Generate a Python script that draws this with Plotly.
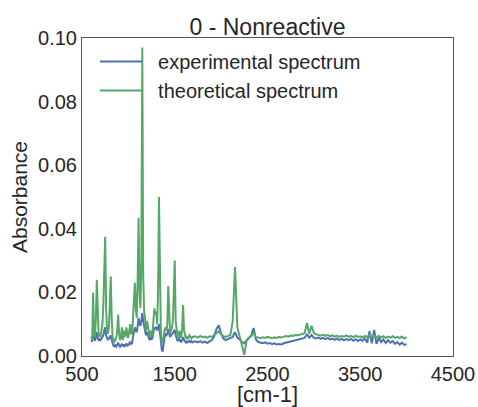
import plotly.graph_objects as go

# wavenumber grid [cm-1]: 10 cm-1 steps in the fingerprint region, 25 above
wn_low = [
    600, 610, 620, 630, 640, 650, 660, 670, 680, 690,
    700, 710, 720, 730, 740, 750, 760, 770, 780, 790,
    800, 810, 820, 830, 840, 850, 860, 870, 880, 890,
    900, 910, 920, 930, 940, 950, 960, 970, 980, 990,
    1000, 1010, 1020, 1030, 1040, 1050, 1060, 1070, 1080, 1090,
    1100, 1110, 1120, 1130, 1140, 1150, 1160, 1170, 1180, 1190,
    1200, 1210, 1220, 1230, 1240, 1250, 1260, 1270, 1280, 1290,
    1300, 1310, 1320, 1330, 1340, 1350, 1360, 1370, 1380, 1390,
    1400, 1410, 1420, 1430, 1440, 1450, 1460, 1470, 1480, 1490,
    1500, 1510, 1520, 1530, 1540, 1550, 1560, 1570, 1580, 1590,
    1600, 1610, 1620, 1630, 1640, 1650, 1660, 1670, 1680, 1690,
    1700,
]
wn_high = [
    1725, 1750, 1775, 1800, 1825, 1850, 1875, 1900,
    1925, 1950, 1975, 2000, 2025, 2050, 2075, 2100,
    2125, 2150, 2175, 2200, 2225, 2250, 2275, 2300,
    2325, 2350, 2375, 2400, 2425, 2450, 2475, 2500,
    2525, 2550, 2575, 2600, 2625, 2650, 2675, 2700,
    2725, 2750, 2775, 2800, 2825, 2850, 2875, 2900,
    2925, 2950, 2975, 3000, 3025, 3050, 3075, 3100,
    3125, 3150, 3175, 3200, 3225, 3250, 3275, 3300,
    3325, 3350, 3375, 3400, 3425, 3450, 3475, 3500,
    3525, 3550, 3575, 3600, 3625, 3650, 3675, 3700,
    3725, 3750, 3775, 3800, 3825, 3850, 3875, 3900,
    3925, 3950, 3975, 4000,
]

experimental_low = [
    0.0050, 0.0045, 0.0070, 0.0052, 0.0048, 0.0060, 0.0075, 0.0055, 0.0050, 0.0053,
    0.0050, 0.0055, 0.0060, 0.0065, 0.0080, 0.0090, 0.0065, 0.0055, 0.0050, 0.0055,
    0.0060, 0.0065, 0.0050, 0.0038, 0.0032, 0.0030, 0.0034, 0.0030, 0.0036, 0.0042,
    0.0033, 0.0029, 0.0034, 0.0038, 0.0030, 0.0036, 0.0031, 0.0035, 0.0039, 0.0032,
    0.0034, 0.0040, 0.0045, 0.0038, 0.0040, 0.0060, 0.0075, 0.0090, 0.0080, 0.0075,
    0.0095, 0.0120, 0.0100, 0.0095, 0.0110, 0.0135, 0.0110, 0.0090, 0.0082, 0.0065,
    0.0075, 0.0068, 0.0055, 0.0050, 0.0060, 0.0052, 0.0058, 0.0075, 0.0090, 0.0085,
    0.0092, 0.0080, 0.0090, 0.0100, 0.0075, 0.0040, 0.0020, 0.0014, 0.0040, 0.0060,
    0.0068, 0.0065, 0.0070, 0.0085, 0.0070, 0.0060, 0.0065, 0.0068, 0.0072, 0.0078,
    0.0082, 0.0065, 0.0052, 0.0048, 0.0050, 0.0055, 0.0046, 0.0045, 0.0050, 0.0060,
    0.0050, 0.0044, 0.0042, 0.0046, 0.0043, 0.0045, 0.0048, 0.0044, 0.0046, 0.0043,
    0.0045,
]
experimental_high = [
    0.0046, 0.0043, 0.0047, 0.0042, 0.0045, 0.0041, 0.0046, 0.0050,
    0.0062, 0.0085, 0.0097, 0.0070, 0.0055, 0.0050, 0.0053, 0.0056,
    0.0060, 0.0075, 0.0058, 0.0052, 0.0044, 0.0040, 0.0048, 0.0055,
    0.0065, 0.0088, 0.0052, 0.0044, 0.0042, 0.0040, 0.0043, 0.0039,
    0.0041, 0.0037, 0.0040, 0.0036, 0.0038, 0.0036, 0.0040, 0.0042,
    0.0044, 0.0046, 0.0048, 0.0050, 0.0052, 0.0053, 0.0055, 0.0057,
    0.0068, 0.0058, 0.0066, 0.0057, 0.0055, 0.0058, 0.0054, 0.0057,
    0.0053, 0.0056, 0.0052, 0.0055, 0.0051, 0.0055, 0.0050, 0.0054,
    0.0049, 0.0053, 0.0050, 0.0054, 0.0048, 0.0053, 0.0047, 0.0052,
    0.0048, 0.0055, 0.0042, 0.0078, 0.0040, 0.0082, 0.0038, 0.0058,
    0.0044, 0.0052, 0.0041, 0.0050, 0.0042, 0.0047, 0.0038, 0.0044,
    0.0036, 0.0042, 0.0035, 0.0037,
]

theoretical_low = [
    0.0060, 0.0050, 0.0200, 0.0070, 0.0060, 0.0120, 0.0240, 0.0100, 0.0060, 0.0070,
    0.0060, 0.0080, 0.0100, 0.0160, 0.0300, 0.0375, 0.0150, 0.0080, 0.0070, 0.0090,
    0.0160, 0.0250, 0.0120, 0.0060, 0.0050, 0.0045, 0.0050, 0.0060, 0.0080, 0.0130,
    0.0070, 0.0050, 0.0060, 0.0090, 0.0050, 0.0080, 0.0060, 0.0070, 0.0090, 0.0060,
    0.0060, 0.0080, 0.0100, 0.0070, 0.0070, 0.0120, 0.0160, 0.0230, 0.0150, 0.0120,
    0.0240, 0.0435, 0.0200, 0.0150, 0.0300, 0.0970, 0.0250, 0.0140, 0.0120, 0.0080,
    0.0110, 0.0090, 0.0070, 0.0060, 0.0080, 0.0060, 0.0070, 0.0120, 0.0150, 0.0130,
    0.0140, 0.0100, 0.0200, 0.0500, 0.0150, 0.0080, 0.0040, 0.0050, 0.0060, 0.0080,
    0.0090, 0.0080, 0.0100, 0.0220, 0.0100, 0.0070, 0.0080, 0.0090, 0.0110, 0.0180,
    0.0300, 0.0110, 0.0070, 0.0060, 0.0060, 0.0080, 0.0060, 0.0060, 0.0090, 0.0160,
    0.0080, 0.0060, 0.0055, 0.0060, 0.0055, 0.0060, 0.0065, 0.0060, 0.0055, 0.0060,
    0.0060,
]
theoretical_high = [
    0.0062, 0.0058, 0.0063, 0.0059, 0.0061, 0.0057, 0.0062, 0.0060,
    0.0066, 0.0074, 0.0078, 0.0068, 0.0062, 0.0060, 0.0063, 0.0066,
    0.0110, 0.0280, 0.0090, 0.0062, 0.0030, 0.0004, 0.0050, 0.0058,
    0.0062, 0.0072, 0.0060, 0.0058, 0.0056, 0.0059, 0.0057, 0.0060,
    0.0058, 0.0056, 0.0059, 0.0057, 0.0060, 0.0058, 0.0061, 0.0063,
    0.0061, 0.0064, 0.0063, 0.0066, 0.0065, 0.0068, 0.0070, 0.0072,
    0.0104, 0.0070, 0.0095, 0.0072, 0.0068, 0.0066, 0.0064, 0.0067,
    0.0063, 0.0066, 0.0062, 0.0065, 0.0061, 0.0064, 0.0060, 0.0063,
    0.0061, 0.0065, 0.0060, 0.0063, 0.0059, 0.0064, 0.0060, 0.0062,
    0.0058, 0.0063, 0.0060, 0.0066, 0.0061, 0.0064, 0.0059, 0.0063,
    0.0058, 0.0062, 0.0057, 0.0061, 0.0058, 0.0062, 0.0057, 0.0060,
    0.0056, 0.0061, 0.0055, 0.0059,
]

x_ticks = [500, 1500, 2500, 3500, 4500]
y_ticks = [0.00, 0.02, 0.04, 0.06, 0.08, 0.10]

wavenumber = wn_low + wn_high
experimental = experimental_low + experimental_high
theoretical = theoretical_low + theoretical_high
assert len(wavenumber) == len(experimental) == len(theoretical)

font = "Liberation Sans, Arial, sans-serif"
text_col = "#262626"

fig = go.Figure()
fig.add_trace(go.Scatter(x=wavenumber, y=experimental, mode="lines",
                         name="  experimental spectrum", legendgroup="a",
                         line=dict(color="#4C72B0", width=2)))
fig.add_trace(go.Scatter(x=wavenumber, y=theoretical, mode="lines",
                         name="  theoretical spectrum", legendgroup="b",
                         line=dict(color="#55A868", width=2)))

fig.update_layout(
    width=478, height=407,
    margin=dict(l=82, r=25, t=38, b=51),
    plot_bgcolor="white", paper_bgcolor="white",
    font=dict(family=font, color=text_col, size=20),
    title=dict(text="0 - Nonreactive", x=0.5, xref="paper", xanchor="center",
               y=1 - 27 / 407, yref="container", yanchor="middle",
               font=dict(size=23, color=text_col)),
    legend=dict(x=(95 - 82) / 371, xanchor="left", y=1 - 4 / 318, yanchor="top",
                bgcolor="rgba(0,0,0,0)", borderwidth=0, itemwidth=42,
                tracegroupgap=0, font=dict(size=20, color=text_col)),
    showlegend=True,
)
fig.update_xaxes(range=[500, 4500], tickvals=x_ticks, ticktext=[str(v) for v in x_ticks],
                 showgrid=False, zeroline=False, showline=True, mirror=True,
                 linecolor="#555555", linewidth=1, ticks="", automargin=False,
                 tickfont=dict(size=20), title=dict(text="[cm-1]", font=dict(size=22), standoff=4))
fig.update_yaxes(range=[0, 0.10], tickvals=y_ticks, ticktext=[f"{v:.2f}" for v in y_ticks],
                 showgrid=False, zeroline=False, showline=True, mirror=True,
                 linecolor="#555555", linewidth=1, ticks="", automargin=False,
                 tickfont=dict(size=20), title=dict(text="Absorbance", font=dict(size=21), standoff=4))

# drop the browser's default body margin so the 478x407 figure fills the window
fig.write_html("out.html", config={"displayModeBar": False},
               post_script="document.body.style.margin='0';")
